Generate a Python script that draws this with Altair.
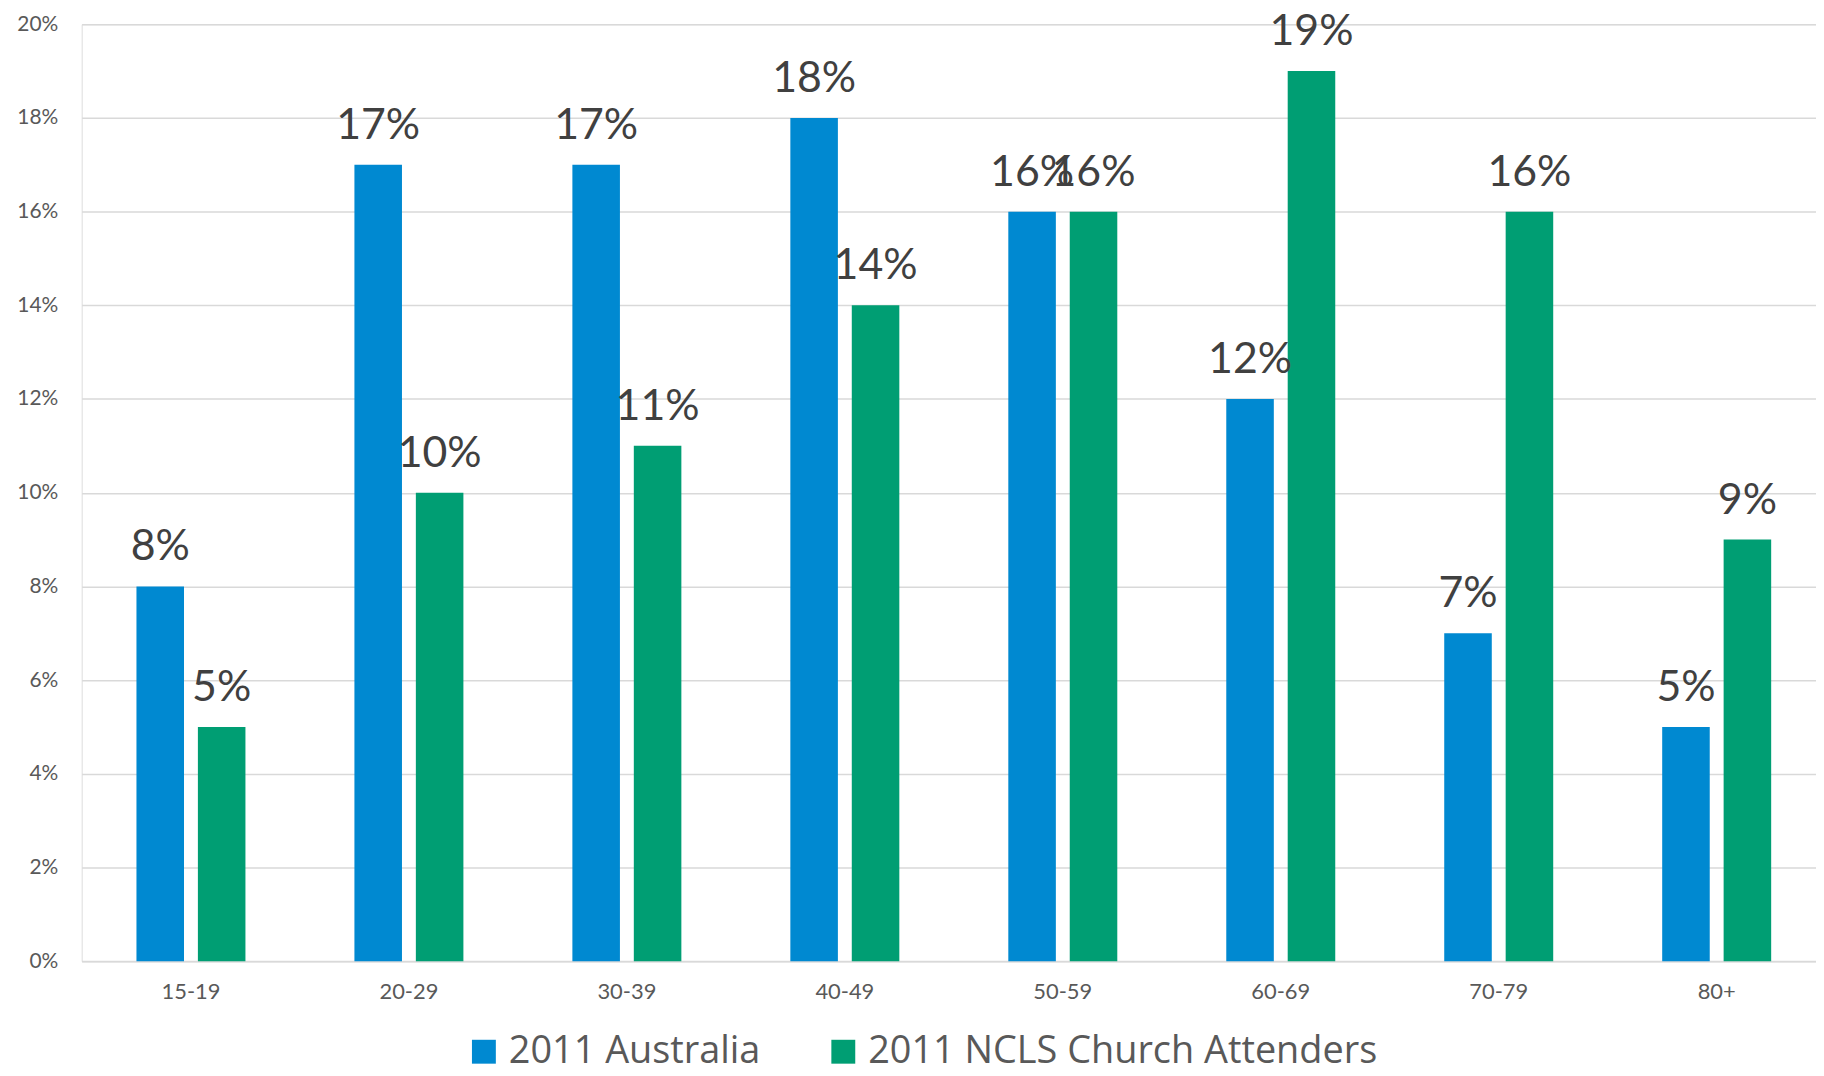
import altair as alt
import pandas as pd

categories = ["15-19", "20-29", "30-39", "40-49", "50-59", "60-69", "70-79", "80+"]
series_names = ["2011 Australia", "2011 NCLS Church Attenders"]
australia = [8, 17, 17, 18, 16, 12, 7, 5]
ncls = [5, 10, 11, 14, 16, 19, 16, 9]
y_ticks = [0, 2, 4, 6, 8, 10, 12, 14, 16, 18, 20]
colors = ["#0089D1", "#009E73"]

rows = []
for i, c in enumerate(categories):
    rows.append({"age": c, "series": series_names[0], "value": australia[i]})
    rows.append({"age": c, "series": series_names[1], "value": ncls[i]})
df = pd.DataFrame(rows)

FONT = "Lato"

x_scale = alt.Scale(domain=categories, paddingInner=0.5, paddingOuter=0.2285, align=0.55)
xo_scale = alt.Scale(domain=series_names, paddingInner=0.226, paddingOuter=0)

x = alt.X("age:N", sort=categories, title=None, scale=x_scale,
          axis=alt.Axis(labelFontSize=22, labelColor="#595959", labelFont=FONT,
                        ticks=False, domain=True, domainColor="#D9D9D9", domainWidth=2,
                        labelPadding=21, labelAngle=0))
xo = alt.XOffset("series:N", sort=series_names, scale=xo_scale)
y = alt.Y("value:Q", title=None,
          scale=alt.Scale(domain=[0, 20]),
          axis=alt.Axis(values=y_ticks, labelExpr="datum.value + '%'",
                        labelFontSize=21, labelColor="#595959", labelFont=FONT,
                        ticks=False, domain=False, grid=True, gridColor="#D9D9D9",
                        gridWidth=1.5, labelPadding=24))
color = alt.Color("series:N", sort=series_names,
                  scale=alt.Scale(domain=series_names, range=colors),
                  legend=alt.Legend(title=None, orient="none", direction="horizontal",
                                    legendX=385, legendY=1013,
                                    symbolType="square", symbolSize=576,
                                    symbolStrokeWidth=0,
                                    labelFontSize=38, labelColor="#595959",
                                    labelFont="Open Sans",
                                    labelLimit=700, columnPadding=64, labelOffset=6))

bars = alt.Chart(df).mark_bar().encode(x=x, xOffset=xo, y=y, color=color)
labels = alt.Chart(df).transform_calculate(lbl="datum.value + '%'").mark_text(
    baseline="alphabetic", dy=-26, fontSize=43, font=FONT, color="#404040"
).encode(
    x=alt.X("age:N", sort=categories, scale=x_scale),
    xOffset=alt.XOffset("series:N", sort=series_names, scale=xo_scale),
    y="value:Q",
    text="lbl:N",
    detail="series:N",
)

chart = (bars + labels).properties(
    width=1742, height=941,
    autosize=alt.AutoSizeParams(type="none"),
    padding={"left": 74, "top": 14, "right": 0, "bottom": 104},
).configure_view(stroke=None).configure(font=FONT)

chart.save("out.html", embed_options={"renderer": "svg", "actions": False})
